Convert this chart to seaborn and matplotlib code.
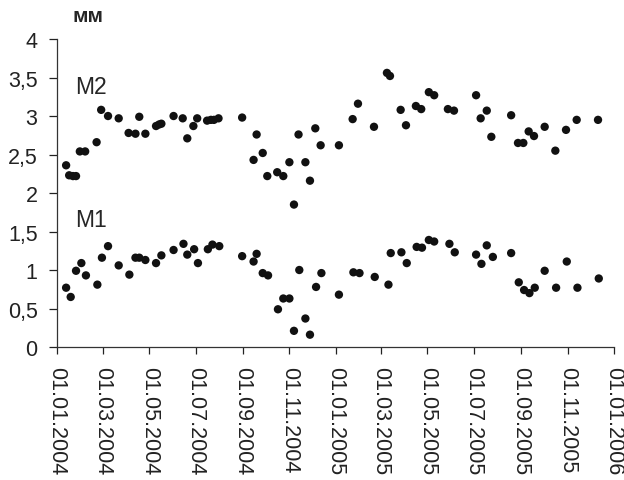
import seaborn as sns
import matplotlib.pyplot as plt
import matplotlib.dates as mdates
import pandas as pd

m2_dates = ['2004-01-13', '2004-01-17', '2004-01-22', '2004-01-26', '2004-01-31', '2004-02-07',
            '2004-02-22', '2004-02-28', '2004-03-08', '2004-03-22', '2004-04-04', '2004-04-13',
            '2004-04-18', '2004-04-26', '2004-05-10', '2004-05-14', '2004-05-17', '2004-06-02',
            '2004-06-14', '2004-06-20', '2004-06-28', '2004-07-03', '2004-07-16', '2004-07-21',
            '2004-07-25', '2004-07-31', '2004-08-31', '2004-09-15', '2004-09-19', '2004-09-27',
            '2004-10-03', '2004-10-16', '2004-10-24', '2004-11-01', '2004-11-07', '2004-11-13',
            '2004-11-22', '2004-11-28', '2004-12-05', '2004-12-12', '2005-01-05', '2005-01-23',
            '2005-01-30', '2005-02-20', '2005-03-09', '2005-03-13', '2005-03-27', '2005-04-03',
            '2005-04-16', '2005-04-23', '2005-05-03', '2005-05-10', '2005-05-28', '2005-06-05',
            '2005-07-04', '2005-07-10', '2005-07-18', '2005-07-24', '2005-08-19', '2005-08-28',
            '2005-09-04', '2005-09-11', '2005-09-18', '2005-10-02', '2005-10-16', '2005-10-30',
            '2005-11-13', '2005-12-11']
m2_values = [2.36, 2.23, 2.22, 2.22, 2.54, 2.54,
             2.66, 3.08, 3.00, 2.97, 2.78, 2.77,
             2.99, 2.77, 2.87, 2.89, 2.90, 3.00,
             2.97, 2.71, 2.87, 2.97, 2.94, 2.95,
             2.95, 2.97, 2.98, 2.43, 2.76, 2.52,
             2.22, 2.27, 2.22, 2.40, 1.85, 2.76,
             2.40, 2.16, 2.84, 2.62, 2.62, 2.96,
             3.16, 2.86, 3.56, 3.52, 3.08, 2.88,
             3.13, 3.09, 3.31, 3.27, 3.09, 3.07,
             3.27, 2.97, 3.07, 2.73, 3.01, 2.65,
             2.65, 2.80, 2.74, 2.86, 2.55, 2.82,
             2.95, 2.95]

m1_dates = ['2004-01-13', '2004-01-19', '2004-01-26', '2004-02-02', '2004-02-08', '2004-02-23',
            '2004-02-29', '2004-03-08', '2004-03-22', '2004-04-05', '2004-04-13', '2004-04-18',
            '2004-04-26', '2004-05-10', '2004-05-17', '2004-06-02', '2004-06-15', '2004-06-20',
            '2004-06-29', '2004-07-04', '2004-07-17', '2004-07-23', '2004-08-01', '2004-08-31',
            '2004-09-15', '2004-09-19', '2004-09-27', '2004-10-04', '2004-10-17', '2004-10-24',
            '2004-11-01', '2004-11-07', '2004-11-14', '2004-11-22', '2004-11-28', '2004-12-06',
            '2004-12-13', '2005-01-05', '2005-01-24', '2005-02-01', '2005-02-21', '2005-03-11',
            '2005-03-14', '2005-03-28', '2005-04-04', '2005-04-17', '2005-04-24', '2005-05-03',
            '2005-05-10', '2005-05-30', '2005-06-06', '2005-07-04', '2005-07-11', '2005-07-18',
            '2005-07-26', '2005-08-19', '2005-08-29', '2005-09-05', '2005-09-12', '2005-09-19',
            '2005-10-02', '2005-10-17', '2005-10-31', '2005-11-14', '2005-12-12']
m1_values = [0.77, 0.65, 0.99, 1.09, 0.93, 0.81,
             1.16, 1.31, 1.06, 0.94, 1.16, 1.16,
             1.13, 1.09, 1.19, 1.26, 1.34, 1.20,
             1.27, 1.09, 1.27, 1.33, 1.31, 1.18,
             1.11, 1.21, 0.96, 0.93, 0.49, 0.63,
             0.63, 0.21, 1.00, 0.37, 0.16, 0.78,
             0.96, 0.68, 0.97, 0.96, 0.91, 0.81,
             1.22, 1.23, 1.09, 1.30, 1.29, 1.39,
             1.37, 1.34, 1.23, 1.20, 1.08, 1.32,
             1.17, 1.22, 0.84, 0.74, 0.70, 0.77,
             0.99, 0.77, 1.11, 0.77, 0.89]

tick_dates = ['2004-01-01', '2004-03-01', '2004-05-01', '2004-07-01', '2004-09-01',
              '2004-11-01', '2005-01-01', '2005-03-01', '2005-05-01', '2005-07-01',
              '2005-09-01', '2005-11-01', '2006-01-01']
y_ticks = [0, 0.5, 1, 1.5, 2, 2.5, 3, 3.5, 4]
y_labels = ['0', '0,5', '1', '1,5', '2', '2,5', '3', '3,5', '4']

df = pd.concat([
    pd.DataFrame({'date': pd.to_datetime(m2_dates), 'value': m2_values, 'series': 'M2'}),
    pd.DataFrame({'date': pd.to_datetime(m1_dates), 'value': m1_values, 'series': 'M1'}),
])

sns.set_style("ticks")
plt.rcParams['font.family'] = ['Liberation Sans', 'DejaVu Sans']

fig = plt.figure(figsize=(6.24, 4.81), dpi=100)
ax = fig.add_axes([0.0913, 0.2765, 0.8927, 0.6403])

sns.scatterplot(data=df, x='date', y='value', hue='series',
                palette={'M2': '#111111', 'M1': '#111111'},
                s=36, edgecolor='none', legend=False, ax=ax)

ax.set_xlim(pd.Timestamp(tick_dates[0]), pd.Timestamp(tick_dates[-1]))
ax.set_ylim(0, 4)
ax.set_xticks(pd.to_datetime(tick_dates))
ax.xaxis.set_major_formatter(mdates.DateFormatter('%d.%m.%Y'))
ax.set_yticks(y_ticks)
ax.set_yticklabels(y_labels)
ax.tick_params(axis='x', labelrotation=-90, labelsize=15.5, length=5, width=0.9,
               pad=9, colors='#222222')
ax.tick_params(axis='y', labelsize=15.5, length=6, width=0.9, pad=8, colors='#222222')
for lab in ax.get_xticklabels():
    lab.set_va('top')
    lab.set_ha('center')
ax.set_xlabel('')
ax.set_ylabel('')

for side in ['top', 'right']:
    ax.spines[side].set_visible(False)
for side in ['left', 'bottom']:
    ax.spines[side].set_color('#333333')
    ax.spines[side].set_linewidth(0.9)

ax.text(0.032, 0.845, 'M2', transform=ax.transAxes, fontsize=16.5, va='center', ha='left')
ax.text(0.032, 0.415, 'M1', transform=ax.transAxes, fontsize=16.5, va='center', ha='left')
fig.text(0.141, 0.966, 'мм', fontsize=15, fontweight='bold', ha='center', va='center')

fig.savefig('out.png', dpi=100)
